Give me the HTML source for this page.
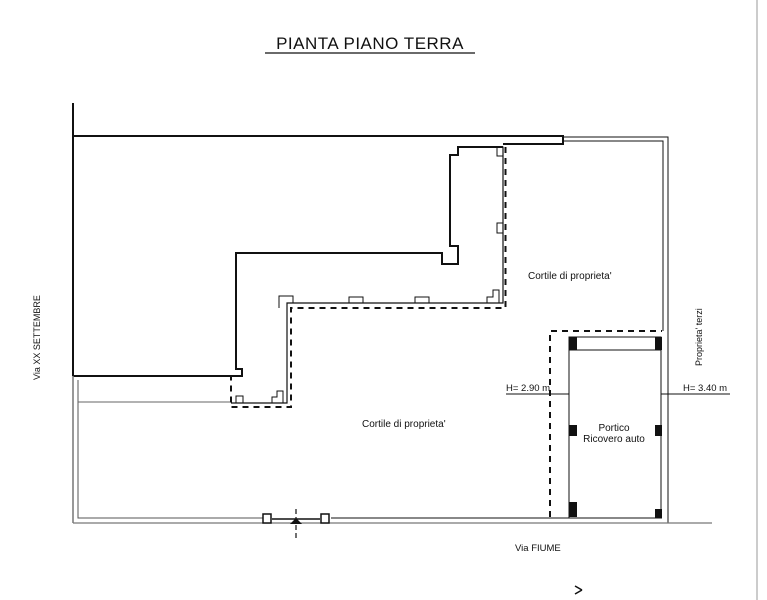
<!DOCTYPE html>
<html><head><meta charset="utf-8"><style>
body{margin:0;background:#fff;width:767px;height:600px;overflow:hidden}
svg{position:absolute;left:0;top:0}
text{font-family:"Liberation Sans",sans-serif;fill:#111}
</style></head><body>
<svg width="767" height="600" viewBox="0 0 767 600">
<line x1="757" y1="0" x2="757" y2="600" stroke="#ccc" stroke-width="2"/>
<text x="370" y="49" font-size="17" text-anchor="middle" letter-spacing="0.5">PIANTA PIANO TERRA</text>
<line x1="265" y1="53" x2="475" y2="53" stroke="#111" stroke-width="1.3"/>
<g fill="none" stroke="#111">
<!-- main building -->
<line x1="73" y1="103" x2="73" y2="376" stroke-width="2"/>
<polyline points="73,136 563,136 563,144 503,144" stroke-width="2"/>
<polyline points="73,376 242,376 242,369 236,369 236,253 442,253 442,264 458,264 458,246 450,246 450,155 458,155 458,147 503,147" stroke-width="2"/>
<!-- thin walls -->
<polyline points="563,137 668,137 668,523" stroke-width="1"/>
<polyline points="563,141 663,141 663,331" stroke-width="1"/>
<polyline points="503,147 503,303 287,303 287,403 231,403" stroke-width="1.2"/>
<polyline points="78,380 78,518 267,518" stroke-width="1" stroke="#555"/>
<line x1="73" y1="376" x2="73" y2="523" stroke="#777" stroke-width="1.5"/>
<line x1="73" y1="523" x2="712" y2="523" stroke="#777" stroke-width="1.2"/>
<line x1="331" y1="518" x2="662" y2="518" stroke-width="1"/>
<line x1="78" y1="402" x2="231" y2="402" stroke="#666" stroke-width="1"/>
<!-- dashed -->
<polyline points="505.5,147 505.5,308 291,308 291,407 231,407 231,376" stroke-width="2" stroke-dasharray="6,5"/>
<polyline points="550,517 550,331 662,331" stroke-width="2" stroke-dasharray="6,5"/>
<!-- small rects -->
<rect x="497" y="147" width="6" height="9"/><rect x="497" y="223" width="6" height="10"/>
<rect x="349" y="297" width="14" height="6"/><rect x="415" y="297" width="14" height="6"/>
<polyline points="279,308 279,296 293,296 293,303"/>
<polyline points="487,303 487,297 493,297 493,290 499,290 499,303"/>
<rect x="236" y="396" width="7" height="7"/>
<polyline points="272,403 272,397 277,397 277,391 283,391 283,403"/>
<!-- portico -->
<rect x="569" y="337" width="92" height="181" stroke-width="1"/>
<line x1="569" y1="350" x2="661" y2="350" stroke-width="1"/>
<line x1="506" y1="394" x2="569" y2="394" stroke-width="1"/>
<line x1="661" y1="394" x2="730" y2="394" stroke-width="1"/>
<!-- gate -->
<line x1="272" y1="519" x2="320" y2="519" stroke-width="1.5"/>
<rect x="263" y="514" width="8" height="9" stroke-width="1.5" fill="#fff"/>
<rect x="321" y="514" width="8" height="9" stroke-width="1.5" fill="#fff"/>
<line x1="296" y1="509" x2="296" y2="540" stroke-width="1.2" stroke-dasharray="5,3"/>
<line x1="575" y1="586" x2="582" y2="590" stroke-width="1.5"/>
<line x1="582" y1="590" x2="575" y2="594" stroke-width="1.5"/>
</g>
<polygon points="290,524 302,524 296,518" fill="#111"/>
<g fill="#111">
<rect x="569" y="337" width="8" height="13"/><rect x="655" y="337" width="7" height="13"/>
<rect x="569" y="425" width="8" height="11"/><rect x="655" y="425" width="7" height="11"/>
<rect x="569" y="502" width="8" height="15"/><rect x="655" y="509" width="7" height="9"/>
</g>
<g font-size="10">
<text x="528" y="279">Cortile di proprieta'</text>
<text x="362" y="427">Cortile di proprieta'</text>
<text x="614" y="431" text-anchor="middle">Portico</text>
<text x="614" y="442" text-anchor="middle">Ricovero auto</text>
<text x="506" y="391" font-size="9.5">H= 2.90 m</text>
<text x="683" y="391" font-size="9.5">H= 3.40 m</text>
<text x="515" y="551" font-size="9.5">Via  FIUME</text>
<text transform="translate(40,380) rotate(-90)" font-size="9">Via XX SETTEMBRE</text>
<text transform="translate(702,366) rotate(-90)" font-size="9">Proprieta' terzi</text>
</g>
</svg>
</body></html>
